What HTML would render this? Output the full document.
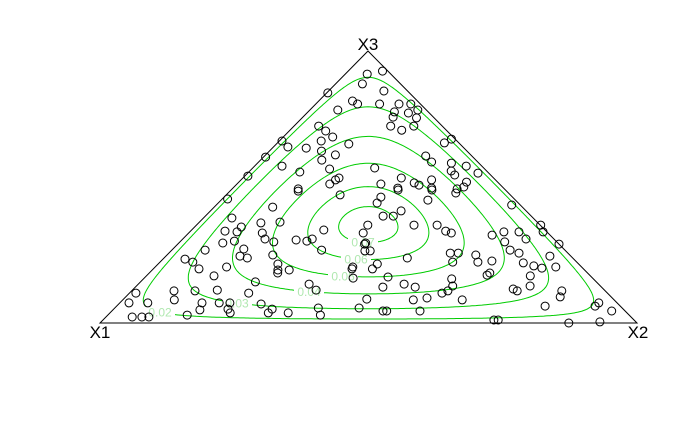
<!DOCTYPE html>
<html><head><meta charset="utf-8"><style>
html,body{margin:0;padding:0;background:#fff;}
svg{display:block;font-family:"Liberation Sans",sans-serif;}
</style></head><body>
<svg id="chart" width="700" height="432" viewBox="0 0 700 432">
<g id="contours"></g>
<g id="labels"></g>
<polygon points="100,323 637,323 368,51" fill="none" stroke="#000" stroke-width="1"/>
<g id="points"></g>
<text x="368" y="50" font-size="17" text-anchor="middle">X3</text>
<text x="100" y="338" font-size="17" text-anchor="middle">X1</text>
<text x="638" y="338" font-size="17" text-anchor="middle">X2</text>
</svg>
<script>
// composition shares (x1 implied = 1 - x2 - x3)
const shareX2 = [.041,.050,.002,.063,.078,.052,.046,.068,.092,.078,.135,.005,.027,.063,.097,.004,.130,.114,.051,.145,.095,.006,.179,.176,.173,.123,.064,.103,.119,.155,.177,.201,.161,.189,.168,.213,.180,.208,.223,.317,.311,.300,.322,.227,.361,.394,.375,.389,.429,.295,.268,.328,.355,.341,.424,.307,.370,.419,.428,
.010,.109,.127,.212,.053,.150,.116,.087,.088,.064,.137,.153,.175,.100,.082,.246,.213,.235,.241,.279,.062,.132,.138,.155,.197,.041,.061,.085,.133,.223,.234,.255,.239,.126,.214,.318,.342,.079,.096,.118,.158,.222,.012,.017,.052,.153,.185,.205,.265,.213,.162,.295,.295,.332,.379,.455,.453,.049,.067,.080,.148,.224,.396,.368,.389,.325,.348,.361,
.292,.311,.296,.374,.424,.385,.550,.355,.331,.350,.405,.448,.475,.489,.641,.658,.569,.585,.613,.639,.605,.710,.371,.524,.539,.630,.652,.575,.453,.545,.592,.616,.678,.715,.703,.722,.746,.408,.408,.633,.634,.715,.452,.574,.461,.495,.521,.589,.589,.582,.733,.707,.718,.801,.809,.541,.563,.632,.798,.892,.891,.931,.505,.512,.574,.728,.736,.873,.929,.319,.348,.370];
const shareX3 = [.915,.879,.846,.816,.805,.783,.724,.706,.684,.669,.658,.669,.647,.643,.632,.610,.618,.599,.577,.566,.555,.540,.533,.526,.511,.493,.926,.853,.805,.805,.805,.783,.776,.772,.757,.754,.724,.709,.724,.676,.662,.614,.592,.570,.588,.577,.559,.544,.551,.533,.511,.515,.526,.507,.518,.496,.496,.493,.500,
.456,.426,.485,.471,.386,.371,.368,.353,.335,.338,.331,.309,.298,.301,.294,.342,.305,.301,.309,.268,.268,.272,.246,.239,.250,.235,.224,.199,.206,.217,.195,.195,.184,.173,.151,.143,.121,.118,.085,.118,.121,.110,.110,.074,.074,.074,.074,.074,.070,.051,.048,.051,.037,.037,.055,.055,.088,.022,.022,.022,.029,.037,.029,.206,.165,.331,.290,.265,
.463,.489,.441,.489,.478,.452,.434,.412,.393,.393,.360,.360,.338,.331,.360,.335,.323,.335,.335,.309,.298,.290,.265,.257,.257,.268,.257,.250,.239,.224,.224,.228,.221,.246,.210,.202,.206,.217,.199,.176,.184,.173,.169,.162,.132,.143,.132,.136,.118,.110,.136,.125,.118,.118,.096,.085,.092,.085,.062,.074,.062,.044,.044,.044,.044,.011,.011,0,.004,.360,.294,.199];
const contourLevels = [0.02,0.03,0.04,0.05,0.06,0.07];
const levelLabels = ["0.02","0.03","0.04","0.05","0.06","0.07"];
const densityMode = [0.32,0.32,0.36];

const NS="http://www.w3.org/2000/svg";
const A=[100,323],B=[637,323],C=[368,51];
function toPx(x1,x2,x3){return [x1*A[0]+x2*B[0]+x3*C[0], x1*A[1]+x2*B[1]+x3*C[1]];}
function toComp(px,py){const x3=(A[1]-py)/(A[1]-C[1]);const x2=(px-A[0]-(C[0]-A[0])*x3)/(B[0]-A[0]);return [1-x2-x3,x2,x3];}
function density(px,py){
  const c=toComp(px,py);
  if(c[0]<=0||c[1]<=0||c[2]<=0) return 0;
  let lu=0;for(let i=0;i<3;i++){lu+=3*densityMode[i]*Math.log(c[i]/densityMode[i]);}
  return Math.exp(-2.513-0.862*Math.sqrt(Math.max(0,-lu)));
}
// marching squares
const step=2,x0=98,y0=49,nx=Math.ceil((640-x0)/step)+1,ny=Math.ceil((326-y0)/step)+1;
const grid=[];
for(let j=0;j<ny;j++){const row=[];for(let i=0;i<nx;i++)row.push(density(x0+i*step,y0+j*step));grid.push(row);}
const cg=document.getElementById('contours');
contourLevels.forEach((lv,k)=>{
  let d="";
  for(let j=0;j<ny-1;j++){
    for(let i=0;i<nx-1;i++){
      const px=x0+i*step,py=y0+j*step;
      const v=[grid[j][i],grid[j][i+1],grid[j+1][i+1],grid[j+1][i]];
      const P=[[px,py],[px+step,py],[px+step,py+step],[px,py+step]];
      const pts=[];
      for(let e=0;e<4;e++){const a=v[e],b=v[(e+1)%4];
        if((a>=lv)!==(b>=lv)){const t=(lv-a)/(b-a);const p1=P[e],p2=P[(e+1)%4];pts.push([p1[0]+t*(p2[0]-p1[0]),p1[1]+t*(p2[1]-p1[1])]);}}
      for(let s=0;s+1<pts.length;s+=2)d+="M"+pts[s][0].toFixed(1)+" "+pts[s][1].toFixed(1)+"L"+pts[s+1][0].toFixed(1)+" "+pts[s+1][1].toFixed(1);
    }
  }
  const p=document.createElementNS(NS,'path');
  p.setAttribute('d',d);p.setAttribute('fill','none');p.setAttribute('stroke','#00cc00');p.setAttribute('stroke-width','1');p.setAttribute('stroke-linecap','round');
  
  
  cg.appendChild(p);
});
// labels on the lower-left crossing
const labelX=[160,237,309,343,356,363];
const lg=document.getElementById('labels');
contourLevels.forEach((lv,k)=>{
  const lx=labelX[k];let ly=null;
  for(let y=322;y>120;y-=0.5){if(density(lx,y)>=lv){ly=y;break;}}
  if(ly===null)return;
  const r=document.createElementNS(NS,'rect');
  r.setAttribute('x',lx-15);r.setAttribute('y',ly-5);r.setAttribute('width',30);r.setAttribute('height',10);r.setAttribute('fill','#fff');
  
  
  lg.appendChild(r);
  const t=document.createElementNS(NS,'text');
  t.setAttribute('x',lx);t.setAttribute('y',ly+4.5);t.setAttribute('font-size','12');t.setAttribute('text-anchor','middle');t.setAttribute('fill','#b0e8b0');
  t.textContent=levelLabels[k];
  
  
  lg.appendChild(t);
});
// points
const pg=document.getElementById('points');
for(let i=0;i<shareX2.length;i++){
  const x2=shareX2[i],x3=shareX3[i],x1=1-x2-x3;
  const q=toPx(x1,x2,x3);
  const c=document.createElementNS(NS,'circle');
  c.setAttribute('cx',q[0].toFixed(1));c.setAttribute('cy',q[1].toFixed(1));c.setAttribute('r','4');
  c.setAttribute('fill','none');c.setAttribute('stroke','#000');c.setAttribute('stroke-width','1');
  
  
  pg.appendChild(c);
}
</script>
</body></html>
